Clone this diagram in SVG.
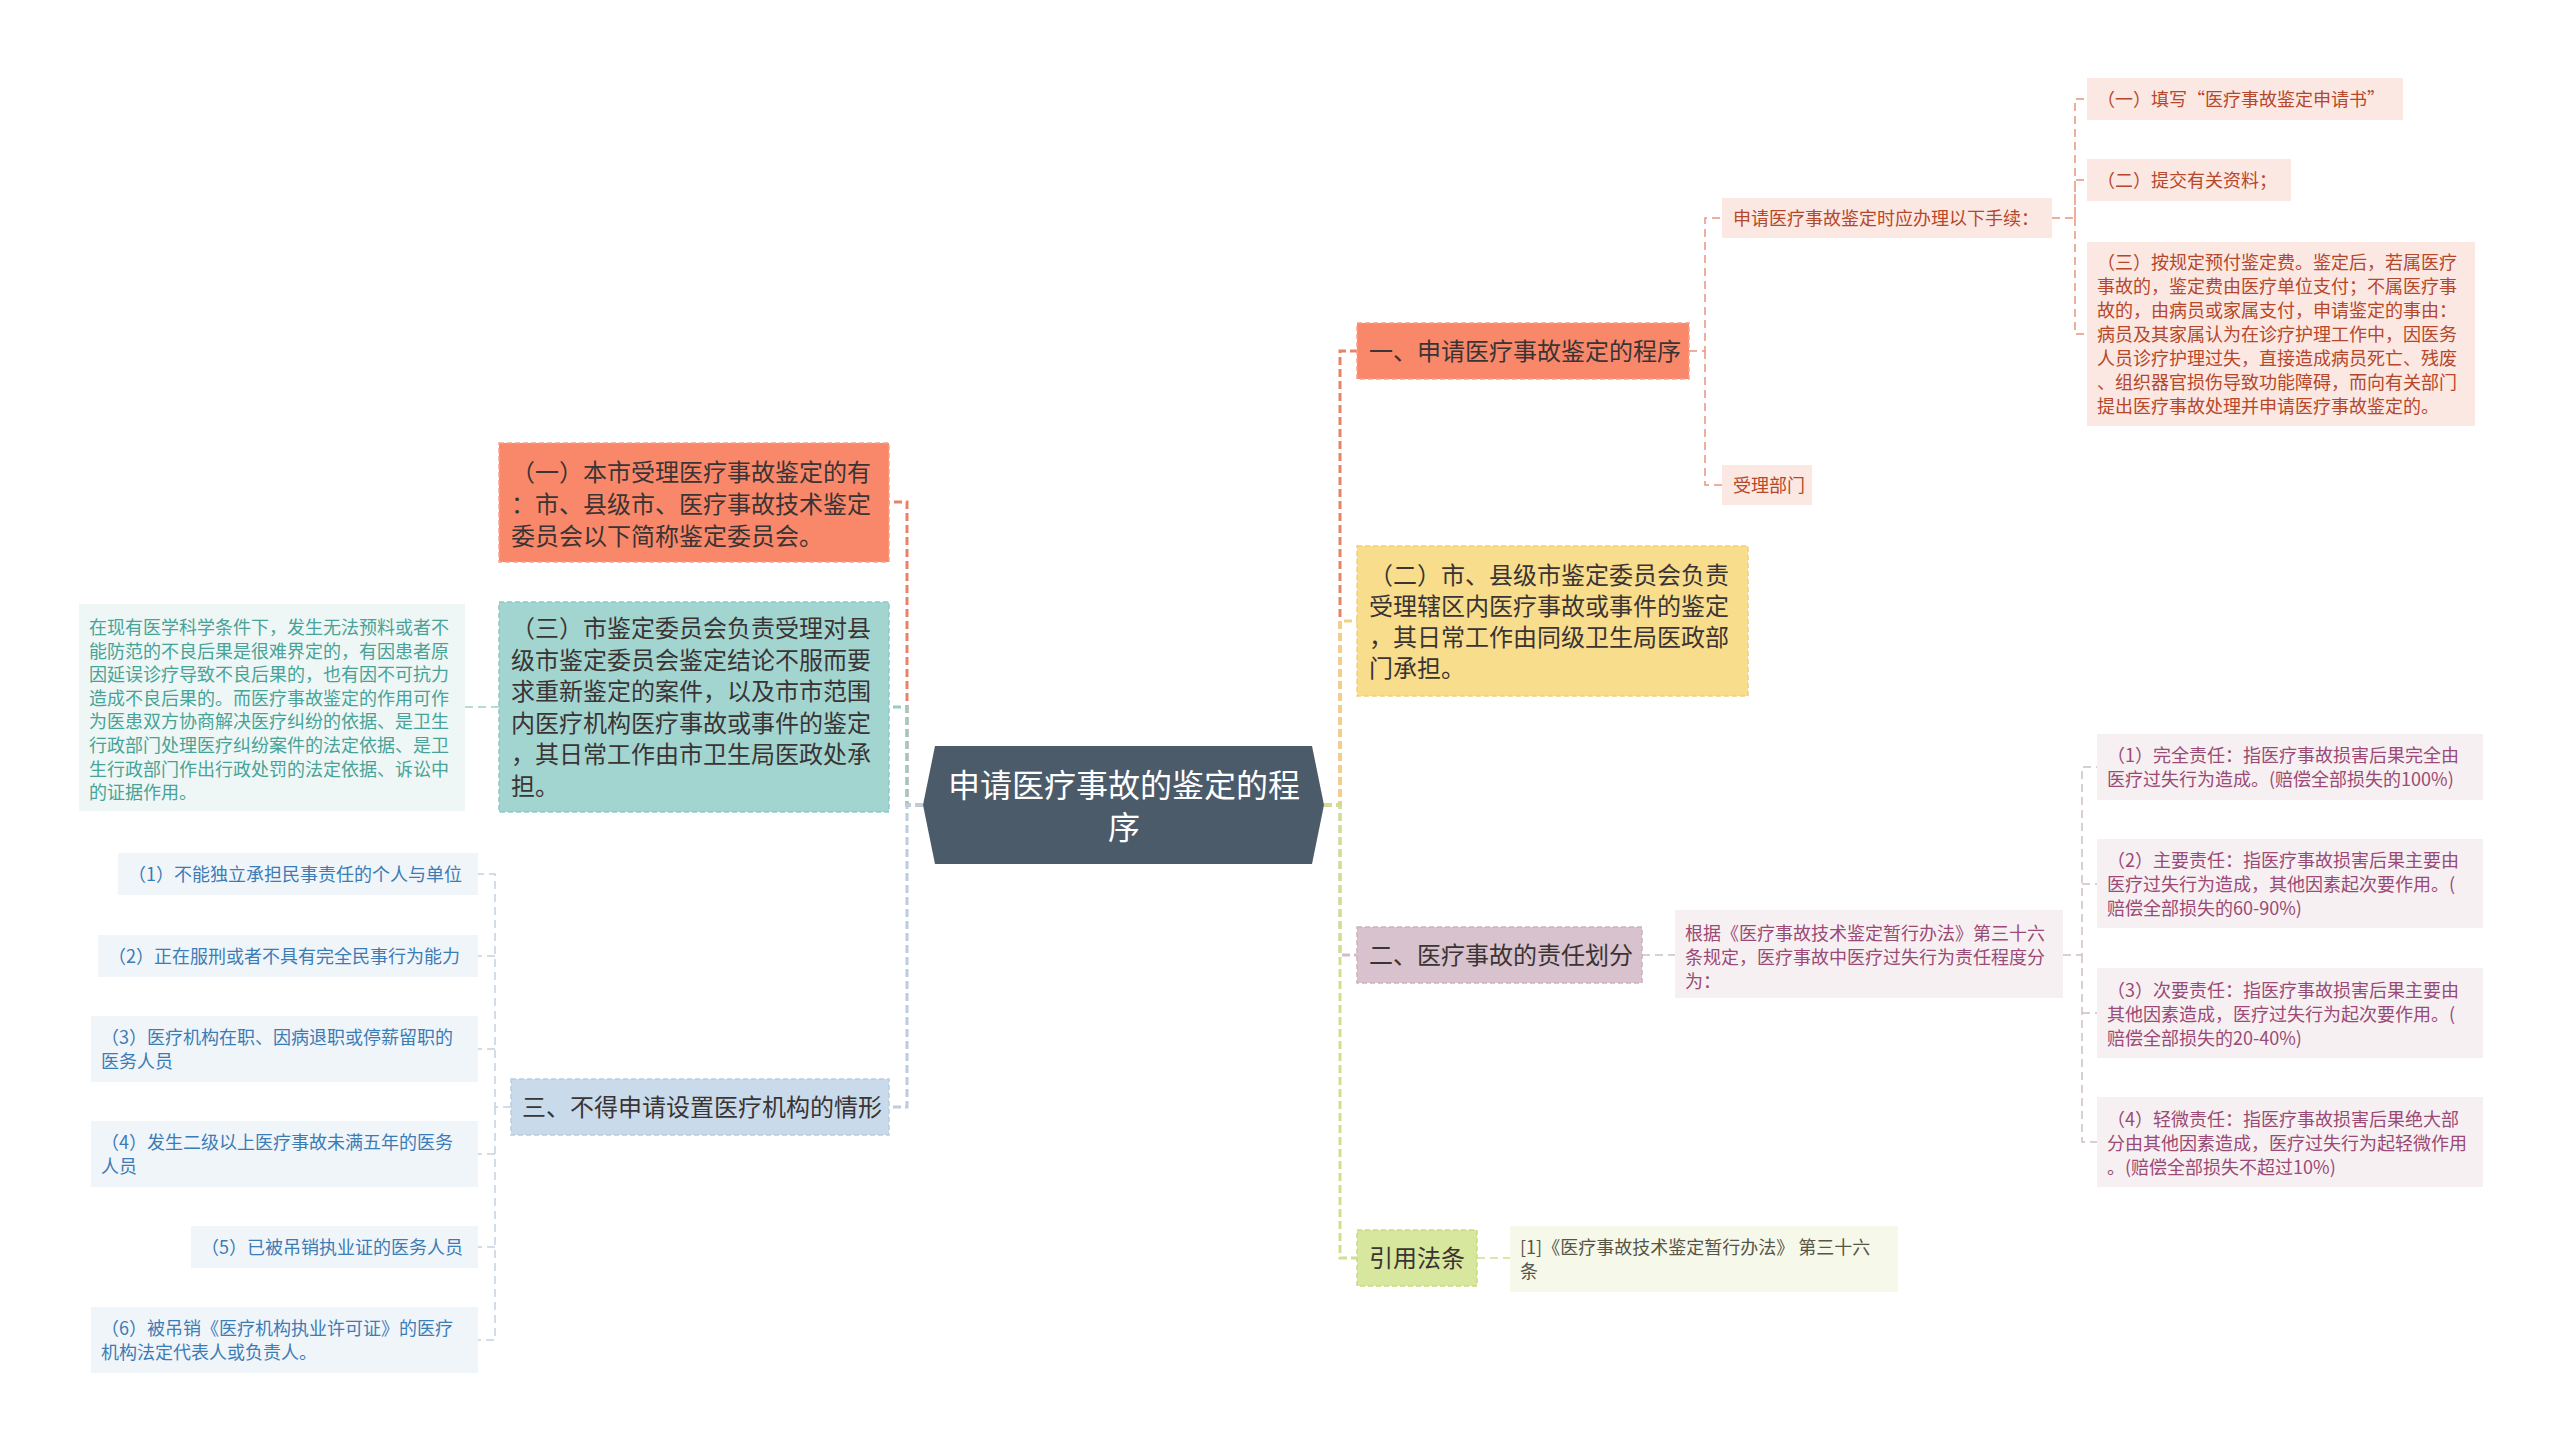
<svg xmlns="http://www.w3.org/2000/svg" width="2560" height="1452" viewBox="0 0 2560 1452">
<style>
text{font-family:"Noto Sans CJK SC","Noto Sans",sans-serif}
.m{font-size:24px;fill:#3a3434}
.s{font-size:18px}
.c{font-size:32px;fill:#ffffff}
.bd{stroke-width:1.5;stroke-dasharray:5 3}
.lk{fill:none;stroke-width:3;stroke-dasharray:8 4}
.sl{fill:none;stroke-width:1.5;stroke-dasharray:8 5}
.tr{fill:#b5472b}
.tt{fill:#48a396}
.tb{fill:#3c7cb5}
.tm{fill:#9b4a75}
.tg{fill:#555548}
</style>
<rect width="2560" height="1452" fill="#ffffff"/>
<g id="connectors">
<path class="lk" stroke="#e8836a" d="M923,805H907V502H889"/>
<path class="lk" stroke="#9ccbc6" d="M923,805H907V707H889"/>
<path class="lk" stroke="#bccddd" d="M923,805H907V1107H889"/>
<path class="lk" stroke="#e8836a" d="M1324,805H1340V351H1357"/>
<path class="lk" stroke="#f3d27c" d="M1324,805H1340V621H1357"/>
<path class="lk" stroke="#d2bcc6" d="M1324,805H1340V955H1357"/>
<path class="lk" stroke="#cfe08f" d="M1324,805H1340V1258H1357"/>
<path class="sl" stroke="#e8957d" d="M1689,351H1705V218H1722M1705,351V485H1722"/>
<path class="sl" stroke="#e8957d" d="M2052,218H2075V99H2087M2075,218V180H2087M2075,218V334H2087"/>
<path class="sl" stroke="#9fcfc8" d="M499,707H465"/>
<path class="sl" stroke="#c3d2e0" d="M511,1107H495V874H478M495,956H478M495,1049H478M495,1107V1340H478M495,1154H478M495,1247H478"/>
<path class="sl" stroke="#cdbfc7" d="M1642,955H1675"/>
<path class="sl" stroke="#cdbfc7" d="M2063,955H2082V767H2097M2082,884H2097M2082,955V1142H2097M2082,1013H2097"/>
<path class="sl" stroke="#cfe08f" d="M1477,1258H1510"/>
</g>
<g id="center">
<polygon points="935,746 1312,746 1324,805 1312,864 935,864 923,805" fill="#4c5b6a"/>
<text class="c" x="1124" y="797" text-anchor="middle">申请医疗事故的鉴定的程</text>
<text class="c" x="1124" y="839" text-anchor="middle">序</text>
</g>
<g id="r1">
<rect x="1357" y="323" width="332" height="56" fill="#f9876a" class="bd" stroke="#f7a089"/>
<text class="m" x="1369" y="360">一、申请医疗事故鉴定的程序</text>
</g>
<g id="r1a">
<rect x="1722" y="198" width="330" height="40" fill="#fce8e2"/>
<text class="s tr" x="1733" y="225">申请医疗事故鉴定时应办理以下手续：</text>
</g>
<g id="r1b">
<rect x="1722" y="465" width="90" height="40" fill="#fce8e2"/>
<text class="s tr" x="1733" y="492">受理部门</text>
</g>
<g id="r1a1">
<rect x="2087" y="78" width="316" height="42" fill="#fce8e2"/>
<text class="s tr" x="2097" y="106">（一）填写“医疗事故鉴定申请书”</text>
</g>
<g id="r1a2">
<rect x="2087" y="159" width="204" height="42" fill="#fce8e2"/>
<text class="s tr" x="2097" y="187">（二）提交有关资料；</text>
</g>
<g id="r1a3">
<rect x="2087" y="242" width="388" height="184" fill="#fce8e2"/>
<text class="s tr" x="2097" y="269">
<tspan x="2097" y="269">（三）按规定预付鉴定费。鉴定后，若属医疗</tspan>
<tspan x="2097" y="293">事故的，鉴定费由医疗单位支付；不属医疗事</tspan>
<tspan x="2097" y="317">故的，由病员或家属支付，申请鉴定的事由：</tspan>
<tspan x="2097" y="341">病员及其家属认为在诊疗护理工作中，因医务</tspan>
<tspan x="2097" y="365">人员诊疗护理过失，直接造成病员死亡、残废</tspan>
<tspan x="2097" y="389">、组织器官损伤导致功能障碍，而向有关部门</tspan>
<tspan x="2097" y="413">提出医疗事故处理并申请医疗事故鉴定的。</tspan>
</text>
</g>
<g id="r2">
<rect x="1357" y="546" width="391" height="150" fill="#f8dd8c" class="bd" stroke="#f3cf72"/>
<text class="m">
<tspan x="1369" y="584">（二）市、县级市鉴定委员会负责</tspan>
<tspan x="1369" y="615">受理辖区内医疗事故或事件的鉴定</tspan>
<tspan x="1369" y="646">，其日常工作由同级卫生局医政部</tspan>
<tspan x="1369" y="677">门承担。</tspan>
</text>
</g>
<g id="r3">
<rect x="1357" y="927" width="285" height="56" fill="#d8c2cd" class="bd" stroke="#ccb2bf"/>
<text class="m" x="1369" y="964">二、医疗事故的责任划分</text>
</g>
<g id="r3a">
<rect x="1675" y="910" width="388" height="88" fill="#f7f0f3"/>
<text class="s tm">
<tspan x="1685" y="940">根据《医疗事故技术鉴定暂行办法》第三十六</tspan>
<tspan x="1685" y="964">条规定，医疗事故中医疗过失行为责任程度分</tspan>
<tspan x="1685" y="988">为：</tspan>
</text>
</g>
<g id="r3a1">
<rect x="2097" y="734" width="386" height="66" fill="#f6f0f3"/>
<text class="s tm">
<tspan x="2107" y="762">（1）完全责任：指医疗事故损害后果完全由</tspan>
<tspan x="2107" y="786">医疗过失行为造成。(赔偿全部损失的100%)</tspan>
</text>
</g>
<g id="r3a2">
<rect x="2097" y="839" width="386" height="89" fill="#f6f0f3"/>
<text class="s tm">
<tspan x="2107" y="867">（2）主要责任：指医疗事故损害后果主要由</tspan>
<tspan x="2107" y="891">医疗过失行为造成，其他因素起次要作用。(</tspan>
<tspan x="2107" y="915">赔偿全部损失的60-90%)</tspan>
</text>
</g>
<g id="r3a3">
<rect x="2097" y="968" width="386" height="90" fill="#f6f0f3"/>
<text class="s tm">
<tspan x="2107" y="997">（3）次要责任：指医疗事故损害后果主要由</tspan>
<tspan x="2107" y="1021">其他因素造成，医疗过失行为起次要作用。(</tspan>
<tspan x="2107" y="1045">赔偿全部损失的20-40%)</tspan>
</text>
</g>
<g id="r3a4">
<rect x="2097" y="1097" width="386" height="90" fill="#f6f0f3"/>
<text class="s tm">
<tspan x="2107" y="1126">（4）轻微责任：指医疗事故损害后果绝大部</tspan>
<tspan x="2107" y="1150">分由其他因素造成，医疗过失行为起轻微作用</tspan>
<tspan x="2107" y="1174">。(赔偿全部损失不超过10%)</tspan>
</text>
</g>
<g id="r4">
<rect x="1357" y="1230" width="120" height="56" fill="#d7e79d" class="bd" stroke="#c8db80"/>
<text class="m" x="1369" y="1267">引用法条</text>
</g>
<g id="r4a">
<rect x="1510" y="1226" width="388" height="66" fill="#f6f9ea"/>
<text class="s tg">
<tspan x="1520" y="1254">[1]《医疗事故技术鉴定暂行办法》 第三十六</tspan>
<tspan x="1520" y="1278">条</tspan>
</text>
</g>
<g id="l1">
<rect x="499" y="443" width="390" height="119" fill="#f9876a" class="bd" stroke="#f7a089"/>
<text class="m">
<tspan x="511" y="481">（一）本市受理医疗事故鉴定的有</tspan>
<tspan x="511" y="513">：市、县级市、医疗事故技术鉴定</tspan>
<tspan x="511" y="545">委员会以下简称鉴定委员会。</tspan>
</text>
</g>
<g id="l2">
<rect x="499" y="602" width="390" height="210" fill="#a3d5d0" class="bd" stroke="#8ec9c3"/>
<text class="m">
<tspan x="511" y="637">（三）市鉴定委员会负责受理对县</tspan>
<tspan x="511" y="668.5">级市鉴定委员会鉴定结论不服而要</tspan>
<tspan x="511" y="700">求重新鉴定的案件，以及市市范围</tspan>
<tspan x="511" y="731.5">内医疗机构医疗事故或事件的鉴定</tspan>
<tspan x="511" y="763">，其日常工作由市卫生局医政处承</tspan>
<tspan x="511" y="794.5">担。</tspan>
</text>
</g>
<g id="l2a">
<rect x="79" y="604" width="386" height="207" fill="#eef7f6"/>
<text class="s tt">
<tspan x="89" y="634">在现有医学科学条件下，发生无法预料或者不</tspan>
<tspan x="89" y="657.6">能防范的不良后果是很难界定的，有因患者原</tspan>
<tspan x="89" y="681.2">因延误诊疗导致不良后果的，也有因不可抗力</tspan>
<tspan x="89" y="704.8">造成不良后果的。而医疗事故鉴定的作用可作</tspan>
<tspan x="89" y="728.4">为医患双方协商解决医疗纠纷的依据、是卫生</tspan>
<tspan x="89" y="752">行政部门处理医疗纠纷案件的法定依据、是卫</tspan>
<tspan x="89" y="775.6">生行政部门作出行政处罚的法定依据、诉讼中</tspan>
<tspan x="89" y="799.2">的证据作用。</tspan>
</text>
</g>
<g id="l3">
<rect x="511" y="1079" width="378" height="56" fill="#c9dbea" class="bd" stroke="#b8cde0"/>
<text class="m" x="522" y="1116">三、不得申请设置医疗机构的情形</text>
</g>
<g id="l3a1">
<rect x="118" y="853" width="360" height="42" fill="#f0f5fa"/>
<text class="s tb" x="128" y="881">（1）不能独立承担民事责任的个人与单位</text>
</g>
<g id="l3a2">
<rect x="98" y="935" width="380" height="42" fill="#f0f5fa"/>
<text class="s tb" x="108" y="963">（2）正在服刑或者不具有完全民事行为能力</text>
</g>
<g id="l3a3">
<rect x="91" y="1016" width="387" height="66" fill="#f0f5fa"/>
<text class="s tb">
<tspan x="101" y="1044">（3）医疗机构在职、因病退职或停薪留职的</tspan>
<tspan x="101" y="1068">医务人员</tspan>
</text>
</g>
<g id="l3a4">
<rect x="91" y="1121" width="387" height="66" fill="#f0f5fa"/>
<text class="s tb">
<tspan x="101" y="1149">（4）发生二级以上医疗事故未满五年的医务</tspan>
<tspan x="101" y="1173">人员</tspan>
</text>
</g>
<g id="l3a5">
<rect x="191" y="1226" width="287" height="42" fill="#f0f5fa"/>
<text class="s tb" x="201" y="1254">（5）已被吊销执业证的医务人员</text>
</g>
<g id="l3a6">
<rect x="91" y="1307" width="387" height="66" fill="#f0f5fa"/>
<text class="s tb">
<tspan x="101" y="1335">（6）被吊销《医疗机构执业许可证》的医疗</tspan>
<tspan x="101" y="1359">机构法定代表人或负责人。</tspan>
</text>
</g>
</svg>
